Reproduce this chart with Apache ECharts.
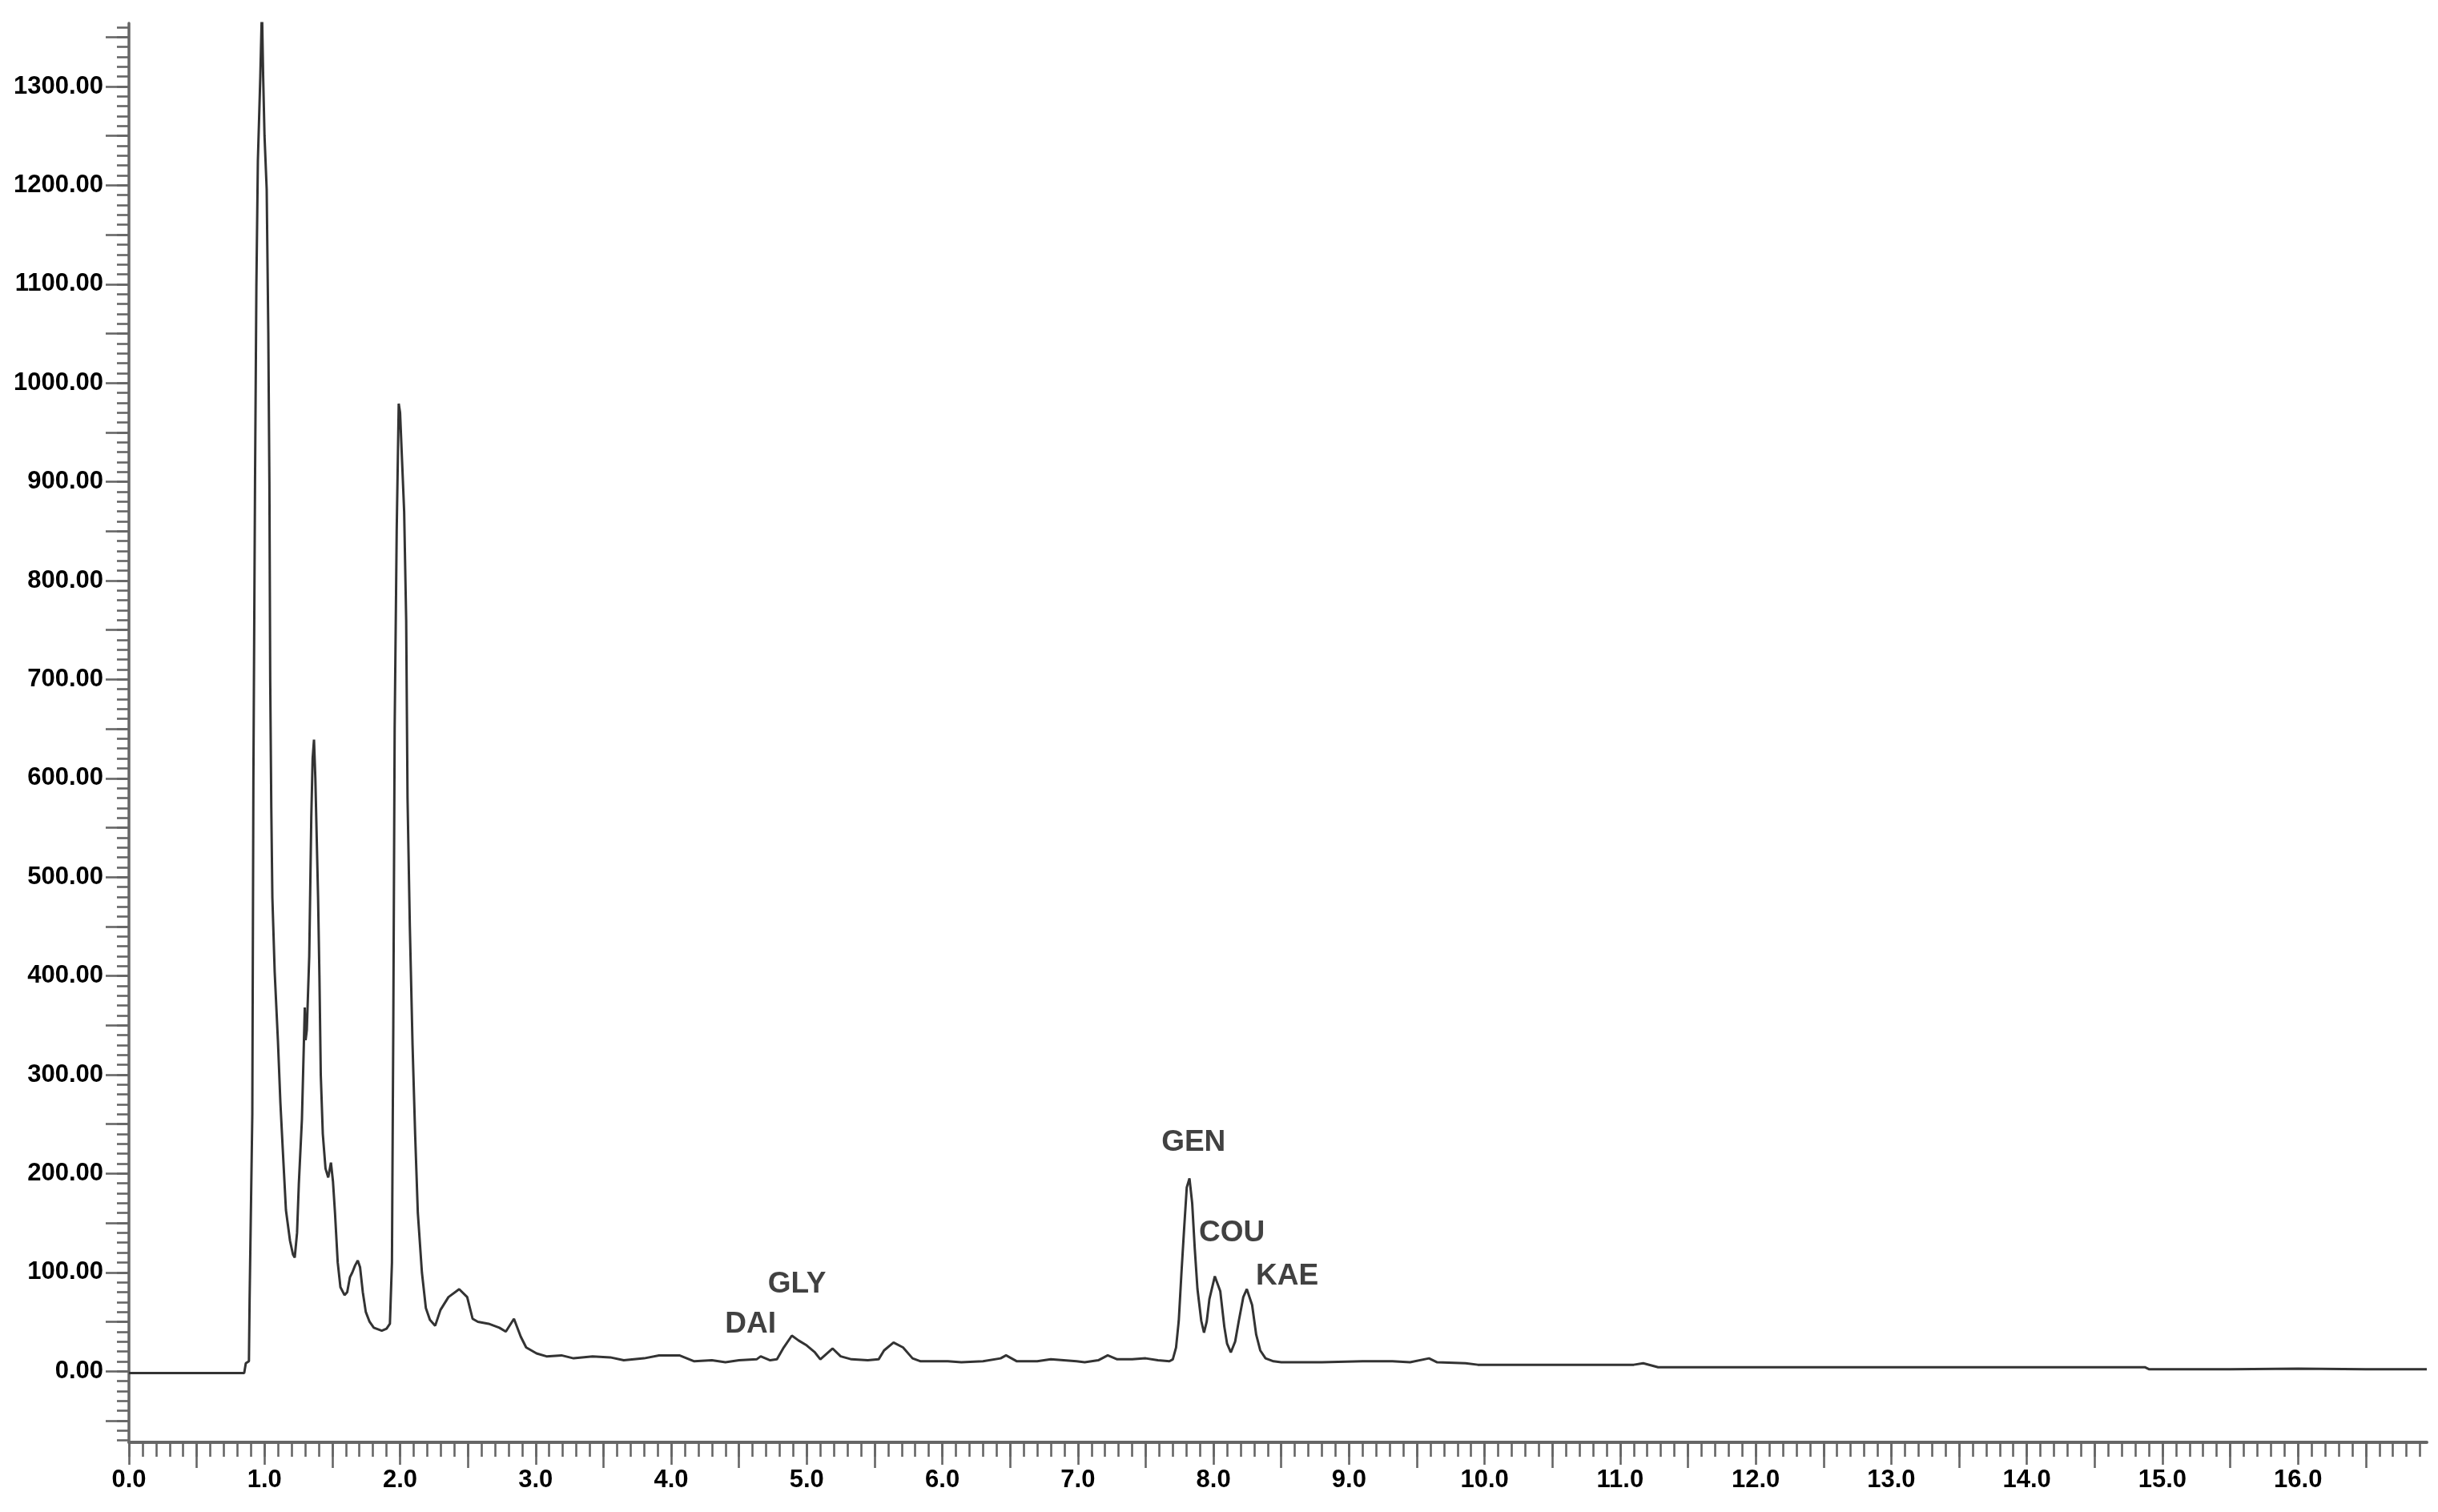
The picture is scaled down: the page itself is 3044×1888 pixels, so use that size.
<!DOCTYPE html>
<html>
<head>
<meta charset="utf-8">
<script src="https://cdn.jsdelivr.net/npm/echarts@6/dist/echarts.min.js"></script>
<style>
  html, body { margin: 0; padding: 0; background: #fff; }
  #chart { width: 3044px; height: 1888px; }
</style>
</head>
<body>
<div id="chart"></div>
<script>
// Retention time (min)
const timeMin = [
  0.00, 0.50, 0.85, 0.862, 0.885, 0.89, 0.91, 0.918, 0.93, 0.94, 0.951, 0.969, 0.981,
  0.99, 1.00, 1.016, 1.028, 1.036, 1.042, 1.05, 1.058, 1.075, 1.099, 1.117, 1.134, 1.158,
  1.188, 1.21, 1.223, 1.24, 1.253, 1.276, 1.29, 1.297, 1.303, 1.312, 1.33, 1.345, 1.355,
  1.365, 1.375, 1.385, 1.395, 1.405, 1.415, 1.43, 1.45, 1.47, 1.49, 1.505, 1.52, 1.54,
  1.56, 1.59, 1.61, 1.63, 1.648, 1.668, 1.688, 1.705, 1.725, 1.747, 1.775, 1.806, 1.865,
  1.90, 1.925, 1.94, 1.95, 1.96, 1.975, 1.99, 2.00, 2.015, 2.03, 2.045, 2.055, 2.072,
  2.092, 2.111, 2.131, 2.161, 2.19, 2.22, 2.259, 2.298, 2.357, 2.436, 2.495, 2.535, 2.574,
  2.653, 2.732, 2.78, 2.84, 2.89, 2.93, 3.007, 3.08, 3.19, 3.28, 3.42, 3.55, 3.65, 3.80,
  3.91, 4.06, 4.17, 4.30, 4.40, 4.50, 4.63, 4.66, 4.73, 4.78, 4.83, 4.89, 4.94, 5.00,
  5.06, 5.10, 5.19, 5.25, 5.33, 5.45, 5.53, 5.57, 5.64, 5.71, 5.78, 5.84, 6.04, 6.14,
  6.30, 6.43, 6.47, 6.55, 6.70, 6.80, 6.99, 7.05, 7.15, 7.22, 7.29, 7.40, 7.50, 7.59,
  7.675, 7.70, 7.724, 7.744, 7.764, 7.783, 7.803, 7.823, 7.843, 7.862, 7.882, 7.91, 7.93,
  7.95, 7.97, 8.01, 8.05, 8.08, 8.10, 8.128, 8.16, 8.187, 8.22, 8.246, 8.285, 8.315,
  8.345, 8.384, 8.443, 8.50, 8.80, 9.10, 9.32, 9.45, 9.59, 9.65, 9.86, 9.95, 10.5, 11.1,
  11.17, 11.28, 11.76, 12.5, 13.5, 14.87, 14.9, 15.5, 16.0, 16.5, 16.95
];
// Detector response
const signal = [
  -2, -2, -2, 8, 10, 72, 260, 600, 900, 1098, 1225, 1310, 1380,
  1310, 1250, 1196, 1050, 900, 700, 570, 479, 404, 334, 272, 226, 163,
  132, 118, 115, 140, 189, 255, 330, 368, 335, 345, 420, 560, 620,
  639, 600, 540, 480, 400, 300, 240, 205, 196, 211, 192, 160, 110,
  85, 77, 80, 95, 100, 107, 112, 105, 80, 60, 50, 44, 41,
  43, 48, 110, 350, 650, 850, 979, 970, 920, 870, 760, 580, 450,
  330, 240, 160, 100, 64, 52, 46, 62, 75, 83, 75, 53, 50,
  48, 44, 40, 53, 35, 24, 18, 15, 16, 13, 15, 14, 11, 13,
  16, 16, 10, 11, 9, 11, 12, 15, 11, 12, 24, 36, 31, 26,
  19, 12, 23, 15, 12, 11, 12, 21, 29, 24, 13, 10, 10, 9,
  10, 13, 16, 10, 10, 12, 10, 9, 11, 16, 12, 12, 13, 11,
  10, 12, 24, 51, 100, 143, 186, 195, 170, 124, 83, 51, 39,
  50, 73, 96, 81, 45, 28, 19, 30, 51, 75, 83, 67, 37,
  21, 13, 10, 9, 9, 10, 10, 9, 13, 9, 8, 6.5, 6.5, 6.5,
  8, 4, 4, 4, 4, 4, 2, 2, 2.5, 2, 2
];
// Peak annotations
const peakNames = ['DAI', 'GLY', 'GEN', 'COU', 'KAE'];
const peakLabelX = [4.585, 4.928, 7.853, 8.136, 8.544];
const peakLabelY = [47, 88, 231, 140, 96];
// Tick labels
const xTickLabels = [0, 1, 2, 3, 4, 5, 6, 7, 8, 9, 10, 11, 12, 13, 14, 15, 16];
const yTickLabels = [0, 100, 200, 300, 400, 500, 600, 700, 800, 900, 1000, 1100, 1200, 1300];

const X_MIN = 0, X_MAX = 16.95, Y_MIN = -72, Y_MAX = 1364;

const xHalfTicks = [];
for (let i = 0; i < 17; i++) xHalfTicks.push(i + 0.5);
const xMinorTicks = [];
for (let i = 0; i <= 169; i++) xMinorTicks.push(+(i * 0.1).toFixed(1));
const yMajorTicks = [];
for (let v = -50; v <= 1350; v += 50) yMajorTicks.push(v);
const yMinorTicks = [];
for (let v = -70; v <= 1360; v += 10) yMinorTicks.push(v);

const lineData = timeMin.map((t, i) => [t, signal[i]]);
const labelData = peakNames.map((n, i) => ({ name: n, value: [peakLabelX[i], peakLabelY[i]] }));

const FONT = "'Liberation Sans', Arial, sans-serif";
const axisColor = '#666666';
const tickStyle = { color: axisColor, width: 2.6 };

function tickOnlyX(values, len) {
  return {
    type: 'value', min: X_MIN, max: X_MAX, position: 'bottom',
    axisLine: { show: false, onZero: false },
    axisTick: { show: true, length: len, customValues: values, lineStyle: tickStyle },
    axisLabel: { show: false },
    splitLine: { show: false }
  };
}

const chart = echarts.init(document.getElementById('chart'), null, { renderer: 'canvas' });
chart.setOption({
  animation: false,
  backgroundColor: '#ffffff',
  grid: { left: 161, right: 14, top: 29, bottom: 87, containLabel: false },
  xAxis: [
    {
      type: 'value', min: X_MIN, max: X_MAX, position: 'bottom',
      axisLine: { show: true, onZero: false, lineStyle: { color: axisColor, width: 4 } },
      axisTick: { show: true, inside: false, length: 28, customValues: xTickLabels, lineStyle: tickStyle },
      axisLabel: {
        show: true, customValues: xTickLabels, margin: 32,
        formatter: v => v.toFixed(1),
        fontFamily: FONT, fontWeight: 'bold', fontSize: 31, color: '#000'
      },
      splitLine: { show: false }
    },
    tickOnlyX(xHalfTicks, 32),
    tickOnlyX(xMinorTicks, 18)
  ],
  yAxis: [
    {
      type: 'value', min: Y_MIN, max: Y_MAX, position: 'left',
      axisLine: { show: true, onZero: false, lineStyle: { color: axisColor, width: 3.5 } },
      axisTick: { show: true, length: 29, customValues: yMajorTicks, lineStyle: tickStyle },
      axisLabel: {
        show: true, customValues: yTickLabels, margin: 32,
        formatter: v => v.toFixed(2),
        fontFamily: FONT, fontWeight: 'bold', fontSize: 31, color: '#000'
      },
      splitLine: { show: false }
    },
    {
      type: 'value', min: Y_MIN, max: Y_MAX, position: 'left',
      axisLine: { show: false, onZero: false },
      axisTick: { show: true, length: 15, customValues: yMinorTicks, lineStyle: tickStyle },
      axisLabel: { show: false },
      splitLine: { show: false }
    }
  ],
  series: [
    {
      type: 'line', xAxisIndex: 0, yAxisIndex: 0,
      data: lineData, showSymbol: false, smooth: false, clip: true,
      lineStyle: { color: '#333333', width: 3 },
      z: 3
    },
    {
      type: 'scatter', xAxisIndex: 0, yAxisIndex: 0,
      data: labelData, symbolSize: 1,
      itemStyle: { color: 'rgba(0,0,0,0)' },
      label: {
        show: true, position: 'inside', formatter: '{b}',
        fontFamily: FONT, fontWeight: 'bold', fontSize: 37, color: '#111'
      },
      z: 4
    }
  ]
});
</script>
</body>
</html>
